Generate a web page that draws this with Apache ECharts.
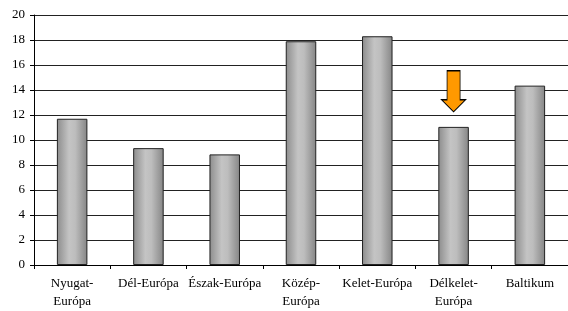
<!DOCTYPE html>
<html>
<head>
<meta charset="utf-8">
<script src="https://cdn.jsdelivr.net/npm/echarts@6/dist/echarts.min.js"></script>
<style>
  html, body { margin: 0; padding: 0; background: #fff; }
  #main { width: 568px; height: 311px; }
</style>
</head>
<body>
<div id="main"></div>
<script>
const regions = ['Nyugat-\nEurópa', 'Dél-Európa', 'Észak-Európa', 'Közép-\nEurópa', 'Kelet-Európa', 'Délkelet-\nEurópa', 'Baltikum'];
const values = [11.7, 9.35, 8.85, 17.9, 18.3, 11.05, 14.35];
const arrowAt = ['Délkelet-\nEurópa', 13.9];

var myChart = echarts.init(document.getElementById('main'));

const barFill = new echarts.graphic.LinearGradient(0, 0, 1, 0, [
    { offset: 0, color: '#8c8c8c' },
    { offset: 0.4, color: '#c4c4c4' },
    { offset: 0.6, color: '#bdbdbd' },
    { offset: 1, color: '#858585' }
]);

var option = {
    animation: false,
    textStyle: { fontFamily: 'Liberation Serif' },
    grid: { left: 34, right: -4, top: 15, bottom: 45.5, containLabel: false },
    xAxis: {
        type: 'category',
        data: regions,
        axisLine: { lineStyle: { color: '#000', width: 1 } },
        axisTick: { show: true, length: 4, lineStyle: { color: '#000' } },
        axisLabel: { color: '#000', fontSize: 13, lineHeight: 18, margin: 10, interval: 0, fontFamily: 'Liberation Serif' }
    },
    yAxis: {
        type: 'value',
        min: 0,
        max: 20,
        interval: 2,
        axisLine: { show: true, lineStyle: { color: '#000', width: 1 } },
        axisTick: { show: true, length: 4, lineStyle: { color: '#000' } },
        axisLabel: { color: '#000', fontSize: 13, margin: 9, fontFamily: 'Liberation Serif' },
        splitLine: { lineStyle: { color: '#222', width: 1 } }
    },
    series: [{
        type: 'bar',
        data: values,
        barWidth: '40%',
        itemStyle: { color: barFill, borderColor: '#222', borderWidth: 1 },
        markPoint: {
            silent: true,
            label: { show: false },
            symbol: 'path://M5.5,0 L18.5,0 L18.5,29 L24,29 L12,41 L0,29 L5.5,29 Z',
            symbolSize: [24, 41],
            itemStyle: { color: '#ff9900', borderColor: '#000', borderWidth: 1 },
            data: [{ coord: arrowAt }]
        }
    }]
};

myChart.setOption(option);
</script>
</body>
</html>
